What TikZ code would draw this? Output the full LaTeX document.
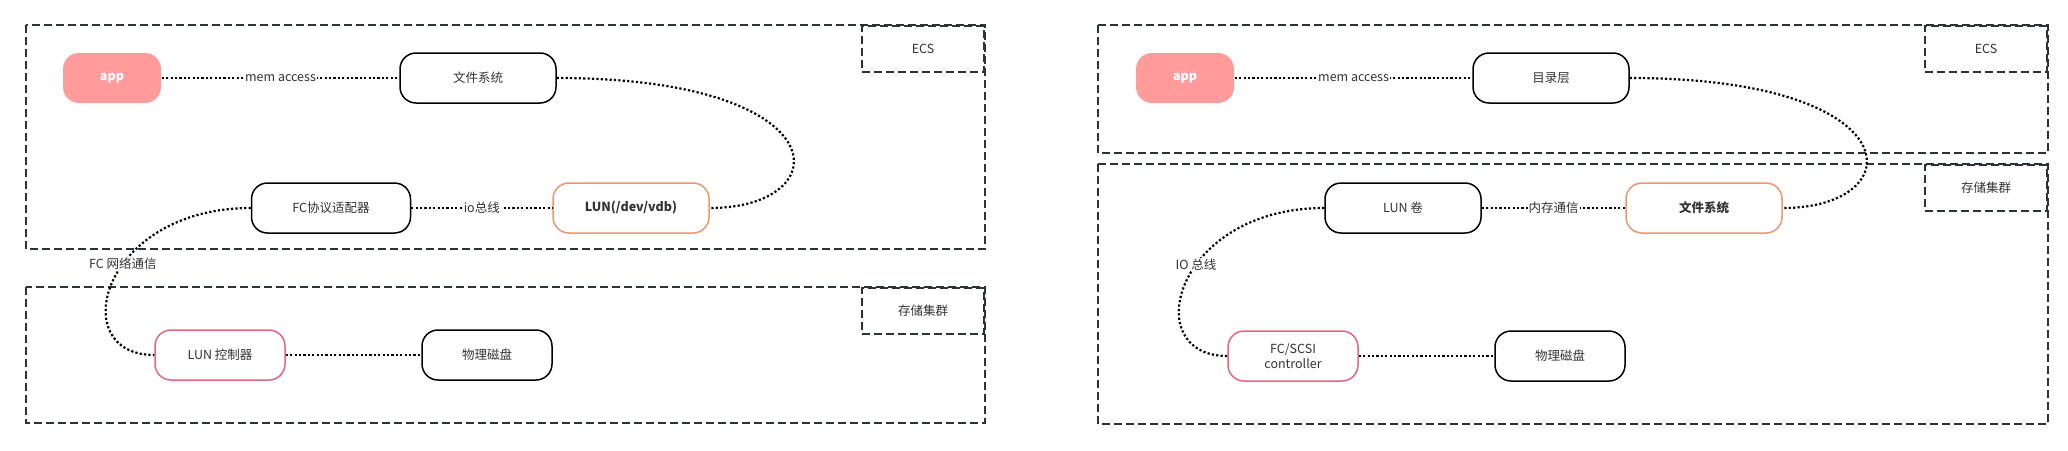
\documentclass[tikz,border=0pt]{standalone}
\usepackage{fontspec}
\setmainfont{Noto Sans CJK SC}
\usetikzlibrary{positioning, calc}
\definecolor{zoneEdge}{RGB}{45,50,56}
\definecolor{txtGray}{RGB}{51,51,51}
\definecolor{appFill}{RGB}{255,155,155}
\definecolor{lunEdge}{RGB}{238,150,112}
\definecolor{ctlEdge}{RGB}{228,102,128}

\begin{document}
\begin{tikzpicture}[
    x=1pt, y=-1pt,
    module/.style={rectangle, draw=black, line width=1.5pt, rounded corners=16pt, minimum width=156pt, minimum height=50pt, align=center, font=\fontsize{12.5}{15}\selectfont, text=txtGray},
    narrow/.style={minimum width=130pt},
    appbox/.style={module, draw=none, fill=appFill, text=white, minimum width=98pt},
    hiLun/.style={draw=lunEdge, font=\fontsize{12.5}{15}\selectfont\bfseries},
    hiCtl/.style={draw=ctlEdge, narrow},
    zone/.style={draw=zoneEdge, line width=2pt, dash pattern=on 8pt off 4pt},
    zonetag/.style={zone, minimum width=122pt, minimum height=46pt, anchor=north east, font=\fontsize{12.5}{15}\selectfont, text=txtGray},
    link/.style={line width=2.2pt, dash pattern=on 2.2pt off 2.2pt},
    lbl/.style={font=\fontsize{12.5}{15}\selectfont, fill=white, inner sep=1pt, text=txtGray}
]
\useasboundingbox (0,0) rectangle (2068,450);

% --- Zonas (esquerda) ---
\draw[zone] (26,25) rectangle (985,249);
\node[zonetag] (tagEcsA) at (985,25) {ECS};
\draw[zone] (26,287) rectangle (985,423);
\node[zonetag] (tagStoA) at (985,287) {存储集群};

% --- Zonas (direita) ---
\draw[zone] (1098,25) rectangle (2048,153);
\node[zonetag] (tagEcsB) at (2048,25) {ECS};
\draw[zone] (1098,164) rectangle (2048,424);
\node[zonetag] (tagStoB) at (2048,164) {存储集群};

% --- Nós (esquerda) ---
\node[appbox] (appA) at (112,78) {\textbf{app}};
\node[module] (fsA) at (478,78) {文件系统};
\node[module, minimum width=159pt] (fcA) at (331,208) {FC协议适配器};
\node[module, hiLun] (lunA) at (631,208) {LUN(/dev/vdb)};
\node[module, hiCtl] (ctlA) at (220,355) {LUN 控制器};
\node[module, narrow] (diskA) at (487,355) {物理磁盘};

% --- Nós (direita) ---
\node[appbox] (appB) at (1185,78) {\textbf{app}};
\node[module] (dirB) at (1551,78) {目录层};
\node[module] (lunB) at (1403,208) {LUN 卷};
\node[module, hiLun] (fsB) at (1704,208) {文件系统};
\node[module, hiCtl] (ctlB) at (1293,356) {FC/SCSI\\controller};
\node[module, narrow] (diskB) at (1560,356) {物理磁盘};

% === LIGAÇÕES ===
\draw[link] (appA) -- node[lbl] {mem access} (fsA);
\draw[link] (fsA.east) .. controls +(284,0) and +(130,0) .. (lunA.east);
\draw[link] (fcA) -- node[lbl] {io总线} (lunA);
\draw[link] (fcA.west) .. controls +(-150,0) and +(-90,0) .. node[lbl, pos=0.42] {FC 网络通信} (ctlA.west);
\draw[link] (ctlA) -- (diskA);

\draw[link] (appB) -- node[lbl] {mem access} (dirB);
\draw[link] (dirB.east) .. controls +(284,0) and +(130,0) .. (fsB.east);
\draw[link] (lunB) -- node[lbl] {内存通信} (fsB);
\draw[link] (lunB.west) .. controls +(-150,0) and +(-90,0) .. node[lbl, pos=0.42] {IO 总线} (ctlB.west);
\draw[link] (ctlB) -- (diskB);

\end{tikzpicture}
\end{document}
